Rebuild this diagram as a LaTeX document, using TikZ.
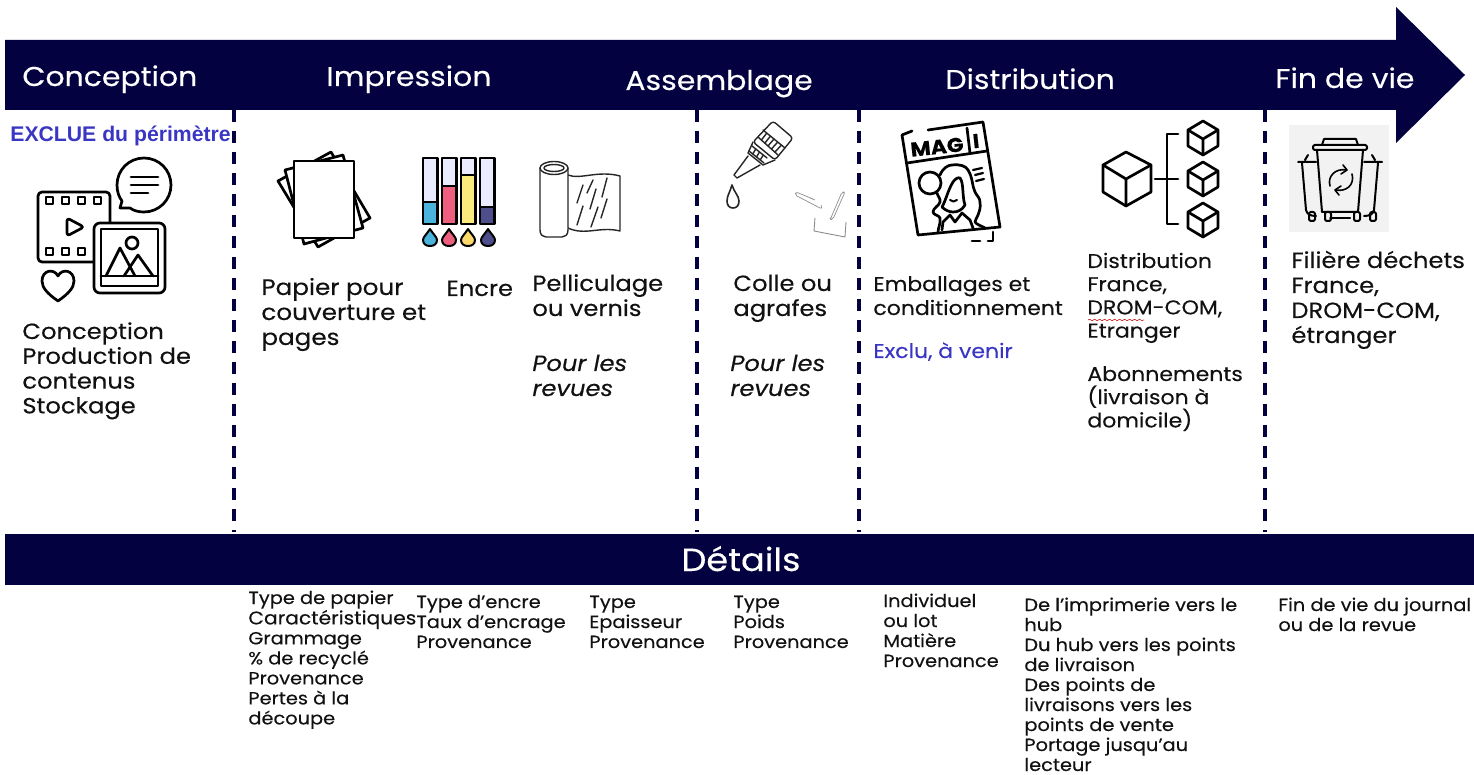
\documentclass[tikz,border=0pt]{standalone}
\usepackage{fontspec}
\setmainfont[FakeStretch=1.1,FakeBold=0.25]{Poppins}
\newfontfamily\arialf{Liberation Sans}
\usetikzlibrary{decorations.pathmorphing,calc}
\definecolor{navy}{HTML}{03013F}
\definecolor{exblue}{HTML}{3A36C4}
\definecolor{ink}{HTML}{111111}
\newcommand\blk[6]{\node[txt,name=#1] at (#2,#3) {\fontsize{#4}{#5}\selectfont\begin{tabular}[t]{@{}l@{}}#6\end{tabular}};}
\tikzset{
  txt/.style={anchor=base west,inner sep=0pt,text=ink},
  head/.style={anchor=base west,inner sep=0pt,text=white,font=\fontsize{13.6}{16}\selectfont},
  divider/.style={navy,line width=1.7pt,dash pattern=on 6pt off 4.5pt},
  ic/.style={draw=black,line width=1.35pt,line join=round,line cap=round},
  icw/.style={ic,fill=white},
  thin/.style={draw=black!85,line width=.7pt,line join=round,line cap=round},
  staple/.style={draw=black!45,line width=.35pt,line join=round},
}
\begin{document}
\begin{tikzpicture}[x=.5pt,y=-.5pt]
\useasboundingbox (0,0) rectangle (1474,775);
% banner arrow and details bar
\fill[navy] (5,40) -- (1396,40) -- (1396,7) -- (1465,75) -- (1396,143) -- (1396,110) -- (5,110) -- cycle;
\fill[navy] (5,534) rectangle (1474,585);
\node[head] (h1) at (22,86) {Conception};
\node[head] (h2) at (326,86) {Impression};
\node[head] (h3) at (625,90) {Assemblage};
\node[head] (h4) at (945,89) {Distribution};
\node[head] (h5) at (1275,88) {Fin de vie};
\node[anchor=base,inner sep=0pt,text=white,font=\fontsize{16}{18}\selectfont] (det) at (741,571) {Détails};
% dividers
\foreach \n/\x in {a/234,b/697,c/859,d/1265}{
  \coordinate (\n t) at (\x,110);
  \coordinate (\n b) at (\x,532);
  \draw[divider] (\n t) -- (\n b);
}
% Conception icon
\draw[ic] (144,158) .. controls (129,158) and (117,170) .. (117,185) .. controls (117,192) and (119,197) .. (122,201) -- (120,208) -- (130,208) .. controls (134,211) and (139,212) .. (144,212) .. controls (159,212) and (171,200) .. (171,185) .. controls (171,170) and (159,158) .. (144,158) -- cycle;
\draw[ic] (131,177) -- (158,177) (131,185) -- (158,185) (131,193) -- (148,193);
\draw[ic,rounded corners=2pt] (38,192) rectangle (110,262);
\foreach \x in {46,62,78,94} \draw[ic,line width=1pt] (\x,197) rectangle +(7,7);
\foreach \x in {46,62,78} \draw[ic,line width=1pt] (\x,248) rectangle +(7,7);
\draw[ic,rounded corners=1.5pt] (67,218) -- (84,227) -- (67,236) -- cycle;
\draw[icw,rounded corners=3pt] (94,223) rectangle (165,293);
\draw[ic] (101,229) rectangle (158,286);
\draw[ic] (101,276) -- (158,276);
\draw[ic] (106,276) -- (120,248) -- (135,276) (124,276) -- (138,255) -- (153,276);
\draw[ic] (132,243) circle[radius=6];
\draw[ic] (58,301) .. controls (48,294) and (42,288) .. (42,281) .. controls (42,270) and (54,268) .. (58,276) .. controls (62,268) and (74,270) .. (74,281) .. controls (74,288) and (68,294) .. (58,301) -- cycle;
% paper
\draw[icw] (278,181) -- (331,152) -- (370,218) -- (318,247) -- cycle;
\draw[icw] (285,170) -- (343,155) -- (363,228) -- (304,244) -- cycle;
\draw[icw] (294,161) rectangle (354,238);
% inks
\foreach \x/\col/\lev in {423/4BB4DC/202,442/EE5F7F/186,461/FBEB7C/175,480/4F4E8C/207}{
  \definecolor{tc}{HTML}{\col}
  \fill[fill=blue!8!white] (\x,158) rectangle +(14.5,66);
  \fill[tc] (\x,\lev) rectangle (\x+14.5,224);
  \draw[ic,line width=1.1pt] (\x,158) rectangle +(14.5,66);
  \draw[ic,line width=1.1pt] (\x,\lev) -- +(14.5,0);
}
\foreach \x/\col in {430/4BB4DC,449/EE5F7F,468/FBD96A,488/4F4E8C}{
  \definecolor{tc}{HTML}{\col}
  \draw[ic,line width=1pt,fill=tc] (\x,229) .. controls (\x-3,234) and (\x-7,237) .. (\x-7,240) .. controls (\x-7,244) and (\x-4,246) .. (\x,246) .. controls (\x+4,246) and (\x+7,244) .. (\x+7,240) .. controls (\x+7,237) and (\x+3,234) .. (\x,229) -- cycle;
}
% film roll
\draw[thin] (568,175) .. controls (580,180) and (598,170) .. (620,176) -- (620,231) .. controls (600,226) and (585,236) .. (568,228);
\draw[thin,fill=white] (540,168) -- (540,230) .. controls (540,235) and (543,237) .. (546,237) -- (562,237) .. controls (565,237) and (568,235) .. (568,230) -- (568,168);
\draw[thin,fill=white] (554,168) ellipse[x radius=14,y radius=6.5];
\draw[thin] (554,168) ellipse[x radius=10,y radius=3.5];
\foreach \a/\b/\c/\d in {577/203/583/185,587/193/593/180,590/209/596/189,602/197/607/178,577/225/583/206,591/227/598/207,601/218/607/199}
  \draw[thin] (\a,\b) -- (\c,\d);
% glue
\draw[thin,rounded corners=1.5pt] (773,121) -- (793,138) -- (775,160) -- (753,142) -- cycle;
\draw[thin] (763,130) -- (785,148) (758,137) -- (778,155);
\foreach \t in {.17,.34,.5,.67,.84} \draw[thin] ($(763,130)!\t!(785,148)$) -- ($(758,137)!\t!(778,155)$);
\draw[thin] (753,142) -- (748,153) -- (763,165) -- (775,160);
\draw[thin] (752,146) -- (767,158) (749,151) -- (764,163);
\foreach \t in {.25,.5,.75} \draw[thin] ($(752,146)!\t!(767,158)$) -- ($(749,151)!\t!(764,163)$);
\draw[thin] (748,156) -- (734,175) -- (737,178) -- (760,165);
\draw[thin,line width=.8pt] (732,185) .. controls (730,192) and (727,196) .. (727,201) .. controls (727,205) and (729,208) .. (733,208) .. controls (737,208) and (739,205) .. (739,201) .. controls (739,196) and (734,192) .. (732,185) -- cycle;
\draw[staple,rounded corners=1pt] (813,199) -- (796,192) -- (795,195) -- (822,209) -- (821,205) (815,200) -- (810,198);
\draw[staple,rounded corners=1pt] (830,220) -- (842,192) -- (845,192) -- (833,219) -- (830,220) -- cycle;
\draw[staple,line width=.45pt] (815,218) -- (814,231) -- (845,237) -- (846,222);
% magazine
\draw[ic] (912,131) -- (902,135) -- (918,235) -- (1000,227) -- (983,122) -- (928,130);
\draw[ic] (907,163) -- (987,151);
\draw[ic] (967,128) -- (970,153);
\draw[ic] (972,241) -- (980,241) (988,241) -- (993,241) -- (993,232);
\node[rotate=6,inner sep=0pt,font=\fontsize{10}{12}\selectfont\bfseries,text=black] (mag) at (937,147) {MAG};
\node[rotate=6,inner sep=0pt,font=\fontsize{10}{12}\selectfont\bfseries,text=black] (magi) at (976,141) {I};
\draw[ic] (930,183) circle[radius=11];
\draw[ic] (940,175) .. controls (943,168) and (948,165) .. (952,165) .. controls (960,164) and (966,166) .. (968,170) .. controls (973,178) and (972,186) .. (975,192) .. controls (977,196) and (980,198) .. (980,202) .. controls (981,208) and (979,212) .. (978,215) .. controls (977,218) and (975,220) .. (975,222) .. controls (977,225) and (982,226) .. (985,228);
\draw[ic] (937,193) .. controls (938,197) and (941,199) .. (940,202) .. controls (939,206) and (933,208) .. (933,212) .. controls (933,215) and (939,215) .. (940,218) .. controls (941,223) and (938,228) .. (938,232);
\draw[ic] (942,207) .. controls (946,200) and (948,190) .. (953,182) .. controls (955,179) and (958,177) .. (960,178) .. controls (964,183) and (962,197) .. (965,205) .. controls (962,210) and (958,212) .. (953,212) .. controls (949,212) and (945,210) .. (942,207) -- cycle;
\draw[ic,line width=1pt] (950,200) .. controls (952,202) and (955,202) .. (957,200);
\draw[ic] (942,230) -- (943,222) -- (950,215) -- (955,222) -- (962,213) -- (970,220) -- (973,228);
\draw[ic,line width=1.1pt] (973,170) -- (982,168) (975,175) -- (983,173) (976,181) -- (984,179);
% distribution boxes
\draw[ic] (1126,152) -- (1151,165) -- (1151,192) -- (1126,206) -- (1103,192) -- (1103,165) -- cycle;
\draw[ic] (1103,165) -- (1126,179) -- (1151,165) (1126,179) -- (1126,206);
\draw[ic] (1155,179) -- (1178,179) (1178,134) -- (1167,134) -- (1167,224) -- (1178,224);
\foreach \y in {138,179,220}{
  \draw[ic] (1203,\y-17) -- (1218,\y-8) -- (1218,\y+8) -- (1203,\y+17) -- (1188,\y+8) -- (1188,\y-8) -- cycle;
  \draw[ic] (1188,\y-8) -- (1203,\y+1) -- (1218,\y-8) (1203,\y+1) -- (1203,\y+17);
}
% bins
\fill[black!5] (1289,125) rectangle (1389,232);
\draw[ic,line width=1pt] (1298,162) -- (1316,162) (1382,162) -- (1364,162) (1308,155) -- (1305,160) (1372,155) -- (1375,160);
\draw[ic,line width=1pt] (1302,163) -- (1306,210) .. controls (1307,214) and (1310,216) .. (1316,216);
\draw[ic,line width=1pt] (1378,163) -- (1374,210) .. controls (1373,214) and (1370,216) .. (1364,216);
\draw[ic,line width=1pt] (1317,150) -- (1322,212) -- (1358,212) -- (1363,150);
\draw[ic,line width=1pt,rounded corners=1pt] (1313,145) rectangle (1367,150);
\draw[ic,line width=1pt] (1322,145) -- (1324,139) -- (1356,139) -- (1358,145);
\draw[ic,line width=1pt] (1330,218) -- (1350,218);
\foreach \x in {1309,1325,1354,1370} \draw[ic,line width=1pt,rounded corners=1pt] (\x,212) rectangle +(6,9);
\draw[ic,line width=.8pt] (1330,186) .. controls (1327,176) and (1336,168) .. (1346,170) (1352,174) .. controls (1355,185) and (1346,192) .. (1336,190);
\draw[ic,line width=.8pt] (1343,165) -- (1347,170) -- (1341,174) (1339,195) -- (1335,190) -- (1341,186);
% texts above bar
\node[anchor=base west,inner sep=0pt,text=exblue,font=\arialf\bfseries\fontsize{10.6}{12}\selectfont] (excl) at (10,142) {EXCLUE du périmètre};
\blk{t1}{22}{339}{11}{12.4}{Conception\\Production de\\contenus\\Stockage}
\blk{t2}{261}{295}{11.2}{12.5}{Papier pour\\couverture et\\pages}
\blk{t3}{446}{296}{11}{12.5}{Encre}
\blk{t4}{532}{291}{11}{12.5}{Pelliculage\\ou vernis}
\blk{t5}{532}{371}{11}{12.5}{\itshape Pour les\\\itshape revues}
\blk{t6}{733}{291}{11}{12.5}{Colle ou\\agrafes}
\blk{t7}{730}{371}{11}{12.5}{\itshape Pour les\\\itshape revues}
\blk{t8}{873}{291}{10}{12}{Emballages et\\conditionnement}
\node[anchor=base west,inner sep=0pt,text=exblue,font=\fontsize{10}{12}\selectfont] (t9) at (873,358) {Exclu, à venir};
\blk{t10}{1087}{268}{10}{11.6}{Distribution\\France,\\DROM-COM,\\Etranger}
\blk{t11}{1087}{381}{10}{11.6}{Abonnements\\\smash{(livraison à}\\\smash{domicile)}}
\blk{t12}{1291}{268}{11}{12.5}{Filière déchets\\France,\\DROM-COM,\\étranger}
\draw[red!80!black,line width=.25pt,decorate,decoration={snake,amplitude=.4pt,segment length=2.5pt}] (1088,320) -- (1144,320);
% details
\blk{d1}{248}{604}{8.8}{10}{Type de papier\\{\fontsize{9.2}{10}\selectfont Caractéristiques}\\Grammage\\\% de recyclé\\Provenance\\Pertes à la\\découpe}
\blk{d2}{416}{608}{8.8}{10}{Type d’encre\\Taux d’encrage\\Provenance}
\blk{d3}{589}{608}{8.8}{10}{Type\\Epaisseur\\Provenance}
\blk{d4}{733}{608}{8.8}{10}{Type\\Poids\\Provenance}
\blk{d5}{883}{607}{8.8}{10}{Individuel\\ou lot\\Matière\\Provenance}
\blk{d6}{1024}{611}{8.8}{10}{De l’imprimerie vers le\\hub\\Du hub vers les points\\de livraison\\Des points de\\livraisons vers les\\points de vente\\Portage jusqu’au\\lecteur}
\blk{d7}{1278}{611}{8.8}{10}{Fin de vie du journal\\ou de la revue}
\end{tikzpicture}
\end{document}
